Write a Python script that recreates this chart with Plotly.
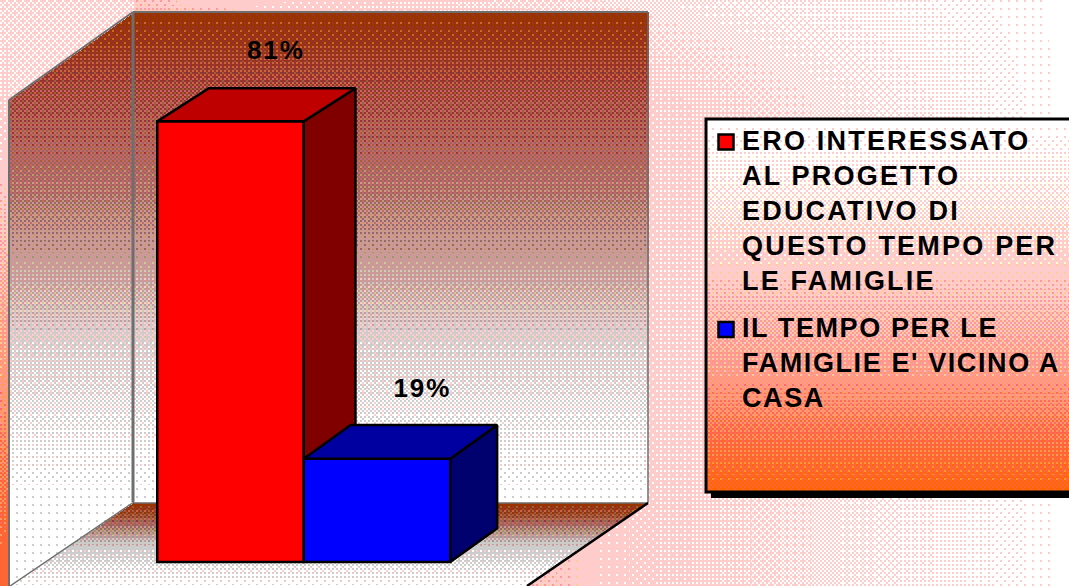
import base64, struct, zlib
import numpy as np
import plotly.graph_objects as go

# ---- data ----
categories = ["ERO INTERESSATO<br>AL PROGETTO<br>EDUCATIVO DI<br>QUESTO TEMPO PER<br>LE FAMIGLIE",
              "IL TEMPO PER LE<br>FAMIGLIE E' VICINO A<br>CASA"]
values = [81, 19]
labels = ["81%", "19%"]
front_colors = ["#FF0000", "#0000FF"]
side_colors = ["#800000", "#00006E"]
top_colors = ["#BE0000", "#0000A0"]
depth_x = [0.353, 0.32]
depth_y = [6.1, 6.2]

W, H = 1069, 586
Y0_PX, Y_SCALE = 562, 5.44
X0_PX, X_SCALE = 230.5, 146.5


def stops(t, pts):
    xs = [p[0] for p in pts]
    return np.stack([np.interp(t, xs, [p[1][c] for p in pts]) for c in range(3)], axis=-1)


def half(xx, yy, a, b):
    """True on one side of segment a->b in pixel space."""
    return (b[0] - a[0]) * (yy - a[1]) - (b[1] - a[1]) * (xx - a[0]) >= 0


def background():
    yy, xx = np.mgrid[0:H, 0:W].astype(float)
    t = (W - xx) / W * 1.1 * np.minimum(1, .55 + .45 * yy / 100)
    t = np.where((xx < 134) & (yy < 100), .3, t)
    t = np.where(xx < 9, np.clip(.4 + .6 * (yy - 100) / 450, .3, 1), t)
    page = stops(np.clip(t, 0, 1), [(0, (255, 255, 255)), (.5, (255, 204, 204)),
                                   (.75, (255, 160, 130)), (1, (255, 102, 51))])
    wall_ramp = [(12, (153, 51, 0)), (60, (165, 65, 45)), (100, (172, 80, 68)), (150, (178, 98, 90)),
                 (200, (182, 122, 112)), (280, (208, 168, 163)), (350, (226, 212, 212)),
                 (440, (245, 242, 242)), (500, (253, 253, 253))]
    wall = stops(yy, wall_ramp)
    floor = stops(yy, [(503, (153, 51, 0)), (522, (165, 100, 85)), (545, (205, 200, 200)),
                       (568, (240, 235, 235)), (586, (255, 255, 255))])
    box = stops(yy, [(118, (255, 255, 255)), (200, (255, 235, 230)), (280, (255, 200, 195)),
                     (370, (255, 160, 140)), (430, (255, 120, 80)), (491, (255, 102, 20))])
    img = page.copy()
    left = (xx >= 9) & (xx <= 134) & half(xx, yy, (9, 100), (134, 12)) & half(xx, yy, (134, 502), (10, 586))
    img[left] = wall[left]
    back = (xx >= 134) & (xx <= 648) & (yy >= 12) & (yy <= 502)
    img[back] = wall[back]
    flr = (yy > 502) & ~half(xx, yy, (134, 502), (10, 586)) & half(xx, yy, (648, 502), (527, 586))
    img[flr] = floor[flr]
    lg = (xx >= 706) & (yy >= 118) & (yy <= 491)
    img[lg] = box[lg]
    # ordered dither onto the web-safe palette, as the low-colour original has
    bayer = np.array([[0, 8, 2, 10], [12, 4, 14, 6], [3, 11, 1, 9], [15, 7, 13, 5]]) / 16 + 1 / 32
    th = bayer[(yy.astype(int) // 2) % 4, (xx.astype(int) // 2) % 4][..., None]
    out = np.floor(img / 51 + th) * 51
    return np.clip(out, 0, 255).astype(np.uint8)


def png_uri(arr):
    h, w, _ = arr.shape
    raw = b"".join(b"\x00" + arr[i].tobytes() for i in range(h))

    def chunk(k, d):
        return struct.pack(">I", len(d)) + k + d + struct.pack(">I", zlib.crc32(k + d) & 0xffffffff)
    data = b"\x89PNG\r\n\x1a\n" + chunk(b"IHDR", struct.pack(">IIBBBBB", w, h, 8, 2, 0, 0, 0)) \
        + chunk(b"IDAT", zlib.compress(raw, 9)) + chunk(b"IEND", b"")
    return "data:image/png;base64," + base64.b64encode(data).decode()


def px(x, y):
    return x / W, 1 - y / H


def seg(a, b, color, width):
    (x0, y0), (x1, y1) = px(*a), px(*b)
    return dict(type="line", xref="paper", yref="paper", x0=x0, y0=y0, x1=x1, y1=y1,
                line=dict(color=color, width=width), layer="below")


fig = go.Figure()
xs = list(range(len(values)))

# front faces
for i, (name, v) in enumerate(zip(categories, values)):
    fig.add_trace(go.Bar(x=[xs[i]], y=[v], width=1, name=name, legendgroup=f"g{i}",
                         marker=dict(color=front_colors[i], line=dict(color="black", width=2.5))))

# side and top faces derive from the same values; a side stops where the next bar's top begins
for i, v in enumerate(values):
    r = xs[i] + .5
    l = xs[i] - .5
    dx, dy = depth_x[i], depth_y[i]
    base = values[i + 1] if i + 1 < len(values) else 0
    back_base = base + (depth_y[i + 1] if i + 1 < len(values) else dy)
    fig.add_trace(go.Scatter(x=[r, r + dx, r + dx, r, r], y=[v, v + dy, back_base, base, v],
                             mode="lines", fill="toself", fillcolor=side_colors[i],
                             line=dict(color="black", width=2.5), showlegend=False, hoverinfo="skip"))
    fig.add_trace(go.Scatter(x=[l, l + dx, r + dx, r, l], y=[v, v + dy, v + dy, v, v],
                             mode="lines", fill="toself", fillcolor=top_colors[i],
                             line=dict(color="black", width=2.5), showlegend=False, hoverinfo="skip"))

# value labels
fig.add_trace(go.Scatter(x=[xs[i] + .31 for i in xs], y=[v + 12.6 for v in values], mode="text",
                         text=labels, textposition="middle center",
                         textfont=dict(family="Liberation Sans", size=26, color="black", weight="bold"),
                         showlegend=False, hoverinfo="skip"))

GREY = "#6E6E6E"
shapes = [
    seg((133, 12), (133, 502), GREY, 3),
    seg((133, 12), (648, 12), GREY, 2),
    seg((648, 12), (648, 503), GREY, 1.5),
    seg((134, 503), (648, 503), GREY, 1.5),
    seg((9, 100), (133, 12), GREY, 2),
    seg((9, 100), (9, 586), GREY, 2),
    seg((134, 502), (10, 586), GREY, 1.5),
    seg((648, 503), (527, 586), "black", 2.5),
]
# legend box with drop shadow
x0, y0 = px(711, 491)
x1, y1 = px(W + 5, 498)
shapes.append(dict(type="rect", xref="paper", yref="paper", x0=x0, y0=y0, x1=x1, y1=y1,
                   fillcolor="black", line_width=0, layer="below"))
x0, y0 = px(706, 119)
x1, y1 = px(W + 5, 492)
shapes.append(dict(type="rect", xref="paper", yref="paper", x0=x0, y0=y0, x1=x1, y1=y1,
                   fillcolor="rgba(0,0,0,0)", line=dict(color="black", width=3), layer="below"))

lx, ly = px(702, 115)
fig.update_layout(
    width=W, height=H, autosize=False,
    margin=dict(l=0, r=0, t=0, b=0, pad=0),
    paper_bgcolor="white", plot_bgcolor="rgba(0,0,0,0)",
    barmode="overlay",
    xaxis=dict(visible=False, range=[-X0_PX / X_SCALE, (W - X0_PX) / X_SCALE], fixedrange=True),
    yaxis=dict(visible=False, range=[(Y0_PX - H) / Y_SCALE, Y0_PX / Y_SCALE], fixedrange=True),
    images=[dict(source=png_uri(background()), xref="paper", yref="paper", x=0, y=1, sizex=1, sizey=1,
                 xanchor="left", yanchor="top", sizing="stretch", layer="below")],
    shapes=shapes,
    legend=dict(x=lx, y=ly, xanchor="left", yanchor="top", bgcolor="rgba(0,0,0,0)", borderwidth=0,
                traceorder="grouped", tracegroupgap=9, itemclick=False, itemdoubleclick=False,
                font=dict(family="Liberation Sans", size=27, color="black", weight="bold")),
    showlegend=True,
)

# The original's bitmap text is wider than any installed face, and its legend keys sit on the first line
post = """
document.body.style.margin='0';document.body.style.overflow='hidden';
var gd=document.getElementById('{plot_id}');
var sp=['2.2px','1.6px'];
gd.querySelectorAll('.legendtext').forEach(function(t,i){t.style.letterSpacing=sp[i]||'2px';});
gd.querySelectorAll('.textpoint text').forEach(function(t){t.style.letterSpacing='2px';});
gd.querySelectorAll('.legend, .legend .scrollbox').forEach(function(e){e.removeAttribute('clip-path');e.style.clipPath='none';e.style.overflow='visible';});
gd.querySelectorAll('.legend .traces').forEach(function(tr){
  var n=tr.querySelectorAll('.legendtext tspan.line').length||1;
  var s=tr.querySelector('.legendsymbols');
  if(s){s.setAttribute('transform','translate(4,'+(-(n-1)*35.1/2+3)+')');}
  tr.querySelectorAll('.legendsymbols path').forEach(function(p){p.setAttribute('d','M7.5,7.5H-7.5V-7.5H7.5Z');});
});
"""
fig.write_html("out.html", config=dict(displayModeBar=False), post_script=post)
